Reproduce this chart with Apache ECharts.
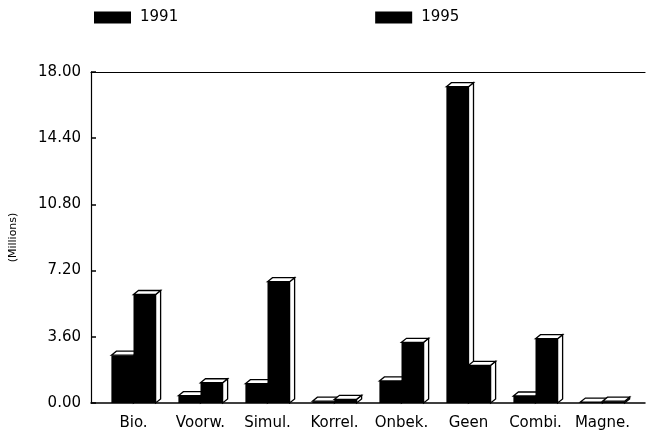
<!DOCTYPE html>
<html><head><meta charset="utf-8">
<script src="https://cdn.jsdelivr.net/npm/echarts@6/dist/echarts.min.js"></script>
<style>html,body{margin:0;padding:0;background:#fff}#c{width:649px;height:435px}</style>
</head><body><div id="c"></div>
<script>
const categories = ['Bio.', 'Voorw.', 'Simul.', 'Korrel.', 'Onbek.', 'Geen', 'Combi.', 'Magne.'];
const values1991 = [2.6, 0.4, 1.05, 0.1, 1.2, 17.2, 0.38, 0.05];
const values1995 = [5.9, 1.1, 6.6, 0.2, 3.3, 2.05, 3.5, 0.1];
const seriesNames = ['1991', '1995'];
const yTicks = { min: 0, max: 18, interval: 3.6 };

const FONT = 'DejaVu Sans';
function render(idx) {
  return function (params, api) {
    const cat = api.value(0), v = api.value(1);
    const top = api.coord([cat, v]);
    const base = api.coord([cat, 0]);
    const band = api.size([1, 0])[0];
    const bw = band * 0.33;
    const x0 = top[0] + (idx === 0 ? -bw : 0);
    const x1 = x0 + bw;
    const yT = top[1], yB = base[1];
    const dx = 5, dy = 4;
    const st = { fill: '#fff', stroke: '#000', lineWidth: 1.3 };
    return {
      type: 'group',
      children: [
        { type: 'polygon', shape: { points: [[x1, yT], [x1 + dx, yT - dy], [x1 + dx, yB - dy], [x1, yB]] }, style: st },
        { type: 'rect', shape: { x: x0, y: yT, width: bw, height: Math.max(yB - yT, 0.5) }, style: { fill: '#000' } },
        { type: 'polygon', shape: { points: [[x0, yT], [x0 + dx, yT - dy], [x1 + dx, yT - dy], [x1, yT]] }, style: st }
      ]
    };
  };
}

const chart = echarts.init(document.getElementById('c'), null, { renderer: 'canvas' });
chart.setOption({
  animation: false,
  backgroundColor: '#fff',
  textStyle: { fontFamily: FONT, color: '#000' },
  legend: {
    left: 89, top: 5, itemWidth: 37, itemHeight: 12, itemGap: 197,
    icon: 'rect',
    textStyle: { fontFamily: FONT, fontSize: 15, color: '#000', padding: [0, 0, 0, 4] },
    data: seriesNames
  },
  grid: [
    { left: 90, right: 4, top: 72, bottom: 32 },
    { left: 100, right: 13, top: 72, bottom: 32 }
  ],
  xAxis: [
    { gridIndex: 0, type: 'category', data: categories, axisLabel: { show: false }, axisTick: { show: false },
      axisLine: { lineStyle: { color: '#000', width: 1.5 } } },
    { gridIndex: 0, type: 'category', position: 'top', data: categories, axisLabel: { show: false }, axisTick: { show: false },
      axisLine: { show: true, lineStyle: { color: '#000', width: 1.2 } } },
    { gridIndex: 1, type: 'category', data: categories, axisLine: { show: false }, axisTick: { show: false },
      axisLabel: { interval: 0, hideOverlap: false, fontFamily: FONT, fontSize: 15, color: '#000', margin: 13 } }
  ],
  yAxis: [
    { gridIndex: 0, type: 'value', min: yTicks.min, max: yTicks.max, interval: yTicks.interval,
      name: '(Millions)', nameLocation: 'middle', nameRotate: 90, nameGap: 72,
      nameTextStyle: { fontFamily: FONT, fontSize: 11, color: '#000' },
      axisLine: { show: true, lineStyle: { color: '#000', width: 1.2 } },
      axisTick: { show: true, inside: true, length: 5, lineStyle: { color: '#000', width: 1.5 } },
      splitLine: { show: false },
      axisLabel: { fontFamily: FONT, fontSize: 15, color: '#000', margin: 10, formatter: v => v.toFixed(2) } },
    { gridIndex: 1, type: 'value', min: yTicks.min, max: yTicks.max, interval: yTicks.interval, show: false, splitLine: { show: false } }
  ],
  series: [
    { name: seriesNames[0], type: 'custom', xAxisIndex: 2, yAxisIndex: 1, color: '#000',
      renderItem: render(0), encode: { x: 0, y: 1 }, data: values1991.map((v, i) => [i, v]) },
    { name: seriesNames[1], type: 'custom', xAxisIndex: 2, yAxisIndex: 1, color: '#000',
      renderItem: render(1), encode: { x: 0, y: 1 }, data: values1995.map((v, i) => [i, v]) }
  ]
});
</script></body></html>
